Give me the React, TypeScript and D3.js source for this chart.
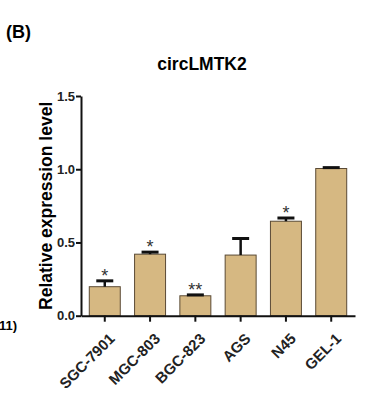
import { useEffect, useRef } from 'react';
import * as d3 from 'd3';

const cellLines = ['SGC-7901', 'MGC-803', 'BGC-823', 'AGS', 'N45', 'GEL-1'];
const meanValues = [0.198, 0.42, 0.136, 0.414, 0.645, 1.005];
const errorValues = [0.04, 0.014, 0.006, 0.113, 0.022, 0.006];
const stars = ['*', '*', '**', '', '*', ''];
const yTicks = [0, 0.5, 1.0, 1.5];

export default function App() {
  const svgRef = useRef<SVGSVGElement>(null);

  useEffect(() => {
    if (!svgRef.current) return;
    const svg = d3.select(svgRef.current);
    svg.selectAll('*').remove();

    const font = '"Liberation Sans", Arial, Helvetica, sans-serif';

    const x = d3.scaleBand<string>()
      .domain(cellLines)
      .range([81, 355])
      .paddingInner(0.316)
      .paddingOuter(0.183);

    const y = d3.scaleLinear()
      .domain([0, 1.5])
      .range([315.7, 96]);

    // panel letter
    svg.append('text')
      .attr('x', 6)
      .attr('y', 38)
      .style('font-family', font)
      .style('font-weight', 'bold')
      .style('font-size', '18px')
      .text('(B)');

    // partial label from neighbouring panel
    svg.append('text')
      .attr('x', -1)
      .attr('y', 330)
      .style('font-family', font)
      .style('font-weight', 'bold')
      .style('font-size', '13px')
      .text('11)');

    // title
    svg.append('text')
      .attr('x', 202)
      .attr('y', 70)
      .attr('text-anchor', 'middle')
      .style('font-family', font)
      .style('font-weight', 'bold')
      .style('font-size', '17.5px')
      .text('circLMTK2');

    // y axis label
    svg.append('text')
      .attr('transform', `translate(52, ${(y(0) + y(1.5)) / 2}) rotate(-90)`)
      .attr('text-anchor', 'middle')
      .style('font-family', font)
      .style('font-weight', 'bold')
      .style('font-size', '17.5px')
      .text('Relative expression level');

    // bars
    svg.append('g')
      .selectAll('rect')
      .data(cellLines)
      .join('rect')
      .attr('x', d => x(d)!)
      .attr('y', (d, i) => y(meanValues[i]))
      .attr('width', x.bandwidth())
      .attr('height', (d, i) => y(0) - y(meanValues[i]))
      .attr('fill', '#D6B882')
      .attr('stroke', '#5a4a35')
      .attr('stroke-width', 1);

    // error bars + significance stars
    const capHalf = 8.5;
    const eb = svg.append('g');
    cellLines.forEach((d, i) => {
      const cx = x(d)! + x.bandwidth() / 2;
      const top = y(meanValues[i] + errorValues[i]);
      eb.append('line')
        .attr('x1', cx).attr('x2', cx)
        .attr('y1', y(meanValues[i])).attr('y2', top)
        .attr('stroke', '#111').attr('stroke-width', 2.5);
      eb.append('line')
        .attr('x1', cx - capHalf).attr('x2', cx + capHalf)
        .attr('y1', top).attr('y2', top)
        .attr('stroke', '#111').attr('stroke-width', 3);
      if (stars[i]) {
        svg.append('text')
          .attr('x', cx)
          .attr('y', top + 1)
          .attr('text-anchor', 'middle')
          .style('font-family', font)
          .style('font-size', '18px')
          .style('fill', '#333')
          .text(stars[i]);
      }
    });

    // y axis
    const yAxis = svg.append('g')
      .attr('transform', 'translate(81,0)')
      .call(d3.axisLeft(y).tickValues(yTicks).tickFormat(d3.format('.1f')).tickSize(5).tickSizeOuter(0));
    yAxis.selectAll('path, line').attr('stroke', '#111').attr('stroke-width', 2);
    yAxis.selectAll('text')
      .attr('x', -6)
      .style('font-family', font)
      .style('font-weight', 'bold')
      .style('font-size', '13px')
      .style('fill', '#222');

    // x axis
    const xAxis = svg.append('g')
      .attr('transform', `translate(0,${y(0)})`)
      .call(d3.axisBottom(x).tickSize(6).tickSizeOuter(0));
    xAxis.selectAll('path, line').attr('stroke', '#111').attr('stroke-width', 2);
    xAxis.selectAll('text')
      .attr('text-anchor', 'end')
      .attr('x', 11)
      .attr('y', 24)
      .attr('dy', 0)
      .attr('transform', 'rotate(-45, 11, 24)')
      .style('font-family', font)
      .style('font-weight', 'bold')
      .style('font-size', '15px')
      .style('fill', '#222');
  }, []);

  return (
    <svg
      ref={svgRef}
      width={385}
      height={397}
      style={{ position: 'absolute', left: 0, top: 0, background: '#fff' }}
    />
  );
}
